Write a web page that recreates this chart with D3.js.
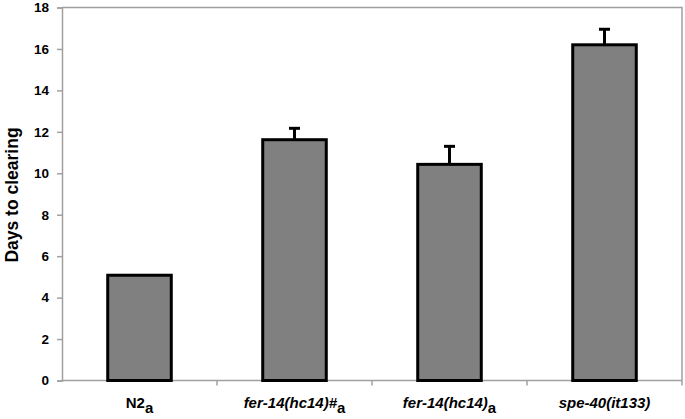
<!DOCTYPE html>
<html>
<head>
<meta charset="utf-8">
<script src="https://cdn.jsdelivr.net/npm/d3@7"></script>
<style>
  body { margin: 0; background: #fff; }
  text { font-family: Arial, "Liberation Sans", sans-serif; font-weight: bold; }
</style>
</head>
<body>
<div id="chart"></div>
<script>
// strain names, split so the subscript "a" can be drawn apart
const strains = ["N2", "fer-14(hc14)#", "fer-14(hc14)", "spe-40(it133)"];
const strainSub = ["a", "a", "a", ""];
const strainItalic = [false, true, true, true];
const days = [5.08, 11.62, 10.43, 16.2];
const errs = [0, 0.55, 0.87, 0.75];
const yTicks = [0, 2, 4, 6, 8, 10, 12, 14, 16, 18];

const width = 685, height = 419;
const margin = {top: 7.5, right: 3, bottom: 38.5, left: 62};

const svg = d3.select("#chart").append("svg")
  .attr("width", width).attr("height", height);

const x = d3.scaleBand().domain(strains)
  .range([margin.left, width - margin.right]).paddingInner(0).paddingOuter(0);
const y = d3.scaleLinear().domain([0, 18]).range([height - margin.bottom, margin.top]);

const barW = x.bandwidth() * 0.41;

// plot frame top and right
svg.append("path")
  .attr("d", `M${margin.left},${margin.top}H${width - margin.right}V${height - margin.bottom}`)
  .attr("fill", "none").attr("stroke", "#a0a0a0").attr("stroke-width", 1.5);

// y axis
const yAxis = svg.append("g")
  .attr("transform", `translate(${margin.left},0)`)
  .call(d3.axisLeft(y).tickValues(yTicks).tickSize(5).tickPadding(8));
yAxis.selectAll("path, line").attr("stroke", "#a0a0a0").attr("stroke-width", 1.5);
yAxis.selectAll("text").attr("font-size", 13.5).attr("fill", "#000");

// x axis with ticks between categories
const xAxis = svg.append("g")
  .attr("transform", `translate(0,${y(0)})`);
xAxis.append("line")
  .attr("x1", margin.left).attr("x2", width - margin.right)
  .attr("stroke", "#a0a0a0").attr("stroke-width", 1.5);
xAxis.selectAll("line.tick").data(strains).join("line")
  .attr("class", "tick")
  .attr("x1", d => x(d) + x.bandwidth()).attr("x2", d => x(d) + x.bandwidth())
  .attr("y1", 0).attr("y2", 5)
  .attr("stroke", "#a0a0a0").attr("stroke-width", 1.5);

// category labels
const lbl = svg.append("g").selectAll("text").data(strains).join("text")
  .attr("x", d => x(d) + x.bandwidth() / 2)
  .attr("y", 408)
  .attr("text-anchor", "middle")
  .attr("font-size", 15)
  .attr("font-style", (d, i) => strainItalic[i] ? "italic" : "normal");
lbl.append("tspan").text(d => d);
lbl.append("tspan")
  .attr("dy", 5).attr("font-size", 15).attr("font-style", "normal")
  .text((d, i) => strainSub[i]);

// error bars
const eb = svg.append("g");
strains.forEach((s, i) => {
  if (!errs[i]) return;
  const cx = x(s) + x.bandwidth() / 2;
  eb.append("line")
    .attr("x1", cx).attr("x2", cx)
    .attr("y1", y(days[i])).attr("y2", y(days[i] + errs[i]))
    .attr("stroke", "#000").attr("stroke-width", 3);
  eb.append("line")
    .attr("x1", cx - 5.5).attr("x2", cx + 5.5)
    .attr("y1", y(days[i] + errs[i])).attr("y2", y(days[i] + errs[i]))
    .attr("stroke", "#000").attr("stroke-width", 3);
});

// bars
svg.append("g").selectAll("rect").data(days).join("rect")
  .attr("x", (d, i) => x(strains[i]) + (x.bandwidth() - barW) / 2)
  .attr("y", d => y(d))
  .attr("width", barW)
  .attr("height", d => y(0) - y(d))
  .attr("fill", "#808080")
  .attr("stroke", "#000").attr("stroke-width", 3);

// y title
svg.append("text")
  .attr("transform", `translate(13,195) rotate(-90)`)
  .attr("text-anchor", "middle")
  .attr("dominant-baseline", "middle")
  .attr("font-size", 17.5)
  .text("Days to clearing");
</script>
</body>
</html>
